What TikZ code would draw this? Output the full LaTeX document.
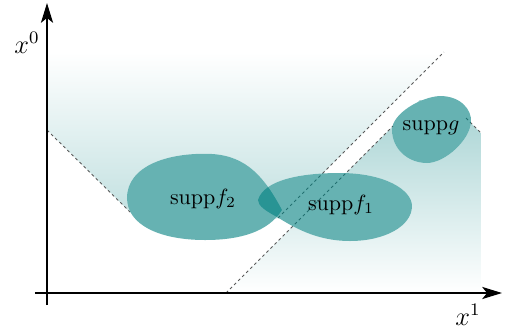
\documentclass[tikz,border=0pt]{standalone}
\usetikzlibrary{arrows.meta}
\newcommand\blobFtwo[1]{\path[#1] (127,198) .. controls (127,165) and (170,152) .. (212,154) .. controls (247,156) and (265,178) .. (282,210) .. controls (268,232) and (240,240) .. (205,240) .. controls (160,240) and (127,225) .. (127,198) -- cycle;}
\newcommand\blobFone[1]{\path[#1] (258,200) .. controls (264,180) and (300,173) .. (340,173) .. controls (385,173) and (412,190) .. (412,206) .. controls (412,226) and (385,241) .. (350,241) .. controls (315,241) and (292,226) .. (277,217) .. controls (266,211) and (258,206) .. (258,200) -- cycle;}
\newcommand\blobG[1]{\path[#1] (392,130) .. controls (392,114) and (420,97) .. (440,96) .. controls (461,96) and (472,110) .. (471,122) .. controls (470,140) and (445,163) .. (427,163) .. controls (407,163) and (392,148) .. (392,130) -- cycle;}
\begin{document}
\begin{tikzpicture}[x=0.4545pt,y=-0.4545pt,
  cone/.style={gray!70!black, line width=0.4pt, dash pattern=on 1.3pt off 1.3pt},
  blob/.style={fill=teal, fill opacity=0.6},
  axislabel/.style={font=\large},
  axisline/.style={line width=0.9pt, -{Stealth[length=9pt,width=5.5pt,inset=2.2pt]}}]
\useasboundingbox (0,0) rectangle (506,331);
% shaded causal regions
\shade[top color=white, bottom color=teal!27] (47,52) -- (47,130) -- (130,212) -- (200,238) -- (278,218) -- (444,52) -- cycle;
\shade[top color=teal!35, bottom color=white] (226,293) -- (393,126) -- (420,100) -- (460,105) -- (468,120) -- (481,133) -- (481,293) -- cycle;
% white underlay of the supports
\blobFtwo{fill=white}
\blobFone{fill=white}
\blobG{fill=white}
% light rays
\coordinate (l1) at (47,130);  \coordinate (l2) at (130,212);
\coordinate (a1) at (278,218); \coordinate (a2) at (444,52);
\coordinate (b1) at (226,293); \coordinate (b2) at (393,126);
\coordinate (c1) at (466,118); \coordinate (c2) at (481,133);
\draw[cone] (l1) -- (l2);
\draw[cone] (a1) -- (a2);
\draw[cone] (b1) -- (b2);
\draw[cone] (c1) -- (c2);
% supports
\blobFtwo{blob}
\blobFone{blob}
\blobG{blob}
\node (sf2) at (203,199) {$\mathrm{supp}f_2$};
\node (sf1) at (341,205) {$\mathrm{supp}f_1$};
\node (sg) at (431,128) {$\mathrm{supp}g$};
% axes
\coordinate (v0) at (47,305); \coordinate (v1) at (47,3);
\coordinate (h0) at (35,293); \coordinate (h1) at (502,293);
\draw[axisline] (v0) -- (v1);
\draw[axisline] (h0) -- (h1);
\node[axislabel] (x0) at (27,43) {$x^0$};
\node[axislabel] (x1) at (468,315) {$x^1$};
\end{tikzpicture}
\end{document}
